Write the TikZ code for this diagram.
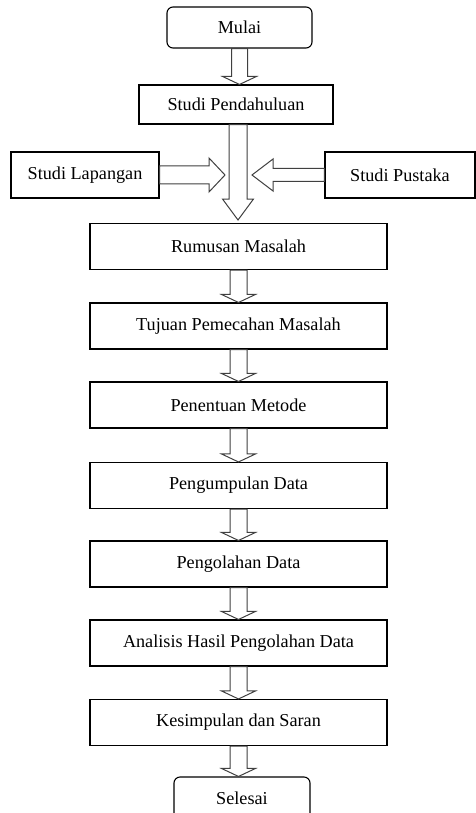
\documentclass[tikz,border=0pt]{standalone}
\usepackage{fontspec}
\setmainfont{Liberation Serif}
\usetikzlibrary{calc}
\newcommand{\vblockarrow}[5]{% from, tip, shaft half, head half, head length
  \draw[blockarr] let \p1=(#1), \p2=(#2) in
    (\x1-#3pt,\y1) -- (\x1-#3pt,\y2+#5pt) -- (\x1-#4pt,\y2+#5pt) -- (\x1,\y2)
    -- (\x1+#4pt,\y2+#5pt) -- (\x1+#3pt,\y2+#5pt) -- (\x1+#3pt,\y1) -- cycle;}
\newcommand{\rblockarrow}[5]{%
  \draw[blockarr] let \p1=(#1), \p2=(#2) in
    (\x1,\y1+#3pt) -- (\x2-#5pt,\y1+#3pt) -- (\x2-#5pt,\y1+#4pt) -- (\x2,\y1)
    -- (\x2-#5pt,\y1-#4pt) -- (\x2-#5pt,\y1-#3pt) -- (\x1,\y1-#3pt) -- cycle;}
\newcommand{\lblockarrow}[5]{%
  \draw[blockarr] let \p1=(#1), \p2=(#2) in
    (\x1,\y1+#3pt) -- (\x2+#5pt,\y1+#3pt) -- (\x2+#5pt,\y1+#4pt) -- (\x2,\y1)
    -- (\x2+#5pt,\y1-#4pt) -- (\x2+#5pt,\y1-#3pt) -- (\x1,\y1-#3pt) -- cycle;}
\begin{document}
\begin{tikzpicture}[x=1pt,y=-1pt,
  box/.style={draw=black, line width=1.1pt, rectangle, inner sep=0pt,
    minimum width=297pt, minimum height=46pt,
    font=\fontsize{18.2}{22}\selectfont},
  rbox/.style={box, rounded corners=6pt},
  blockarr/.style={draw=black!75, line width=1pt, fill=white, line join=miter}]
\useasboundingbox (0,0) rectangle (476,813);
\begin{scope}
\clip (0,0) rectangle (476,813);
\node[rbox, minimum width=145pt, minimum height=41pt] (mulai) at (239.5,27.5) {Mulai};
\node[box, minimum width=194pt, minimum height=39pt] (pend) at (236,104.5) {Studi Pendahuluan};
\node[box, minimum width=148pt, minimum height=46pt] (lap) at (85,175) {Studi Lapangan};
\node[box, minimum width=150pt, minimum height=46pt] (pus) at (400,175) {Studi Pustaka};
\node[box] (rum) at (238.5,246.5) {Rumusan Masalah};
\node[box] (tuj) at (238.5,326) {Tujuan Pemecahan Masalah};
\node[box] (pen) at (238.5,405) {Penentuan Metode};
\node[box] (peng) at (238.5,485.5) {Pengumpulan Data};
\node[box] (pol) at (238.5,564) {Pengolahan Data};
\node[box] (ana) at (238.5,643) {Analisis Hasil Pengolahan Data};
\node[box] (kes) at (238.5,722.5) {Kesimpulan dan Saran};
\node[rbox, minimum width=136pt, minimum height=42pt] (sel) at (242,798) {Selesai};
\coordinate (bigtip) at (238,220);
\coordinate (laptip) at (225,176);
\coordinate (pustip) at (252,175);
\vblockarrow{mulai.south}{pend.north}{8}{17}{8}
\rblockarrow{lap.east}{laptip}{9}{17}{16}
\lblockarrow{pus.west}{pustip}{6.5}{16}{21}
\vblockarrow{$(pend.south)+(2,0)$}{bigtip}{9}{15.5}{21}
\vblockarrow{rum.south}{tuj.north}{8.5}{17}{8}
\vblockarrow{tuj.south}{pen.north}{8.5}{17}{8}
\vblockarrow{pen.south}{peng.north}{8.5}{17}{8}
\vblockarrow{peng.south}{pol.north}{8.5}{17}{8}
\vblockarrow{pol.south}{ana.north}{8.5}{17}{8}
\vblockarrow{ana.south}{kes.north}{8.5}{17}{8}
\vblockarrow{kes.south}{sel.north}{8.5}{17}{8}
\end{scope}
\end{tikzpicture}
\end{document}
